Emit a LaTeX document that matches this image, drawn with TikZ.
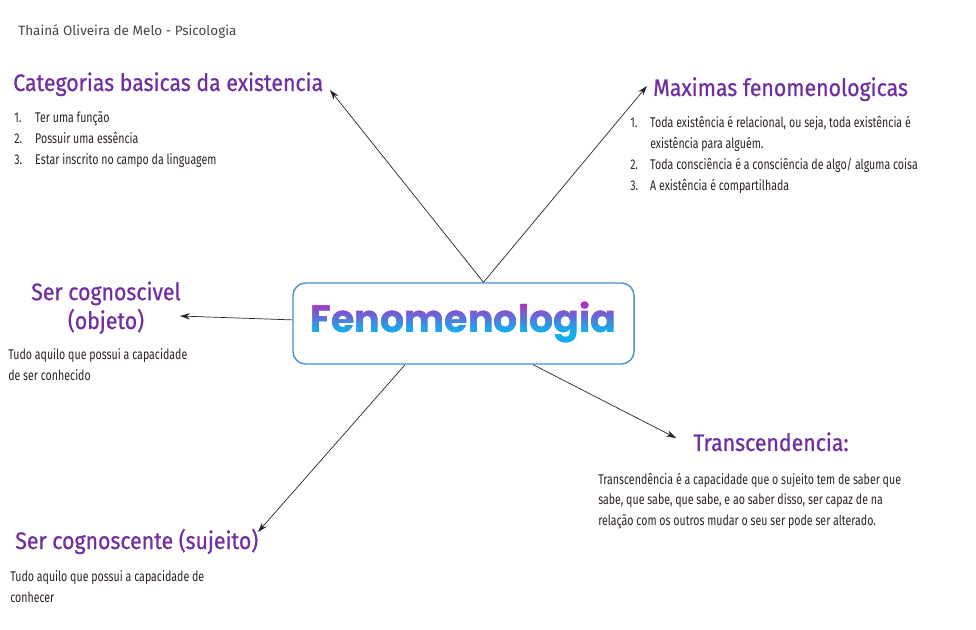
\documentclass[tikz,border=0pt]{standalone}
\usepackage{fontspec}
\setmainfont{Fira Sans}
\newfontfamily\handfont[FakeStretch=0.755]{Fira Sans}
\newfontfamily\titlefont[FakeStretch=0.89,FakeBold=0.8]{Fira Sans}
\newfontfamily\fenfont{Poppins}
\usetikzlibrary{arrows.meta,positioning}

\definecolor{titlepurple}{RGB}{112,48,160}
\definecolor{bodytext}{RGB}{45,35,35}
\definecolor{authorgray}{RGB}{70,70,70}
\definecolor{hubblue}{RGB}{66,146,212}
\definecolor{fenmag}{RGB}{196,28,186}
\definecolor{fencyan}{RGB}{22,172,236}

\tikzset{
  heading/.style={anchor=base west, inner sep=0pt, text=titlepurple, font=\titlefont\fontsize{17}{20.5}\selectfont},
  body/.style={anchor=base west, inner sep=0pt, align=left, text=bodytext, font=\handfont\fontsize{10}{14.9}\selectfont},
  hub/.style={draw=hubblue, line width=1pt, rounded corners=9pt, fill=white, minimum width=8.525cm, minimum height=2.025cm},
  fenword/.style={anchor=base, inner sep=0pt, font=\fenfont\bfseries\fontsize{27}{32}\selectfont},
  link/.style={-{Stealth[length=7pt,width=4.5pt]}, draw=black!85, line width=0.5pt}
}

\begin{document}
\begin{tikzpicture}[x=0.025cm, y=-0.025cm]
    \useasboundingbox (0,0) rectangle (976,630);

    % author line
    \node[anchor=base west, inner sep=0pt, text=authorgray, font=\fontsize{9.6}{11}\selectfont] (author) at (18,36) {Thainá Oliveira de Melo - Psicologia};

    % central box, word shaded band by band
    \node[hub] (fen) at (463.5,323.5) {};
    \foreach \i in {0,...,24} {
        \pgfmathtruncatemacro\pct{max(0,min(100,100-(\i-1)*100/15))}
        \begin{scope}
            \clip (0,{298+2*\i}) rectangle (976,{300.4+2*\i});
            \node[fenword, text=fenmag!\pct!fencyan] (fenTxt\i) at (463.5,333) {Fenomenologia};
        \end{scope}
    }

    % categorias basicas
    \node[heading] (cat) at (13,91) {Categorias basicas da existencia};
    \node[body] (catList) at (14,123) {\begin{tabular}[t]{@{}p{14.9pt}@{}l@{}}
        1. & Ter uma função\\
        2. & Possuir uma essência\\
        3. & Estar inscrito no campo da linguagem
    \end{tabular}};

    % maximas
    \node[heading] (max) at (653,96) {Maximas fenomenologicas};
    \node[body] (maxList) at (630,128) {\begin{tabular}[t]{@{}p{14.2pt}@{}l@{}}
        1. & Toda existência é relacional, ou seja, toda existência é\\
           & existência para alguém.\\
        2. & Toda consciência é a consciência de algo/ alguma coisa\\
        3. & A existência é compartilhada
    \end{tabular}};

    % ser cognoscivel
    \node[heading, anchor=base, align=center] (cog) at (106,329) {Ser cognoscivel\\(objeto)};
    \node[body] (cogTxt) at (8,380) {Tudo aquilo que possui a capacidade\\de ser conhecido};

    % transcendencia
    \node[heading] (tra) at (693,451) {Transcendencia:};
    \node[body, font=\handfont\fontsize{10}{14.5}\selectfont] (traTxt) at (598,525) {Transcendência é a capacidade que o sujeito tem de saber que\\sabe, que sabe, que sabe, e ao saber disso, ser capaz de na\\relação com os outros mudar o seu ser pode ser alterado.};

    % ser cognoscente
    \node[heading] (suj) at (15,549) {Ser cognoscente (sujeito)};
    \node[body] (sujTxt) at (10,602) {Tudo aquilo que possui a capacidade de\\conhecer};

    % arrow ends
    \coordinate (catTip) at (330,90);
    \coordinate (maxTip) at (647,86);
    \coordinate (cogTip) at (180,316);
    \coordinate (sujTip) at (258,532);
    \coordinate (traTip) at (676,438);

    \draw[link] ([xshift=0.5cm]fen.north) -- (catTip);
    \draw[link] ([xshift=0.5cm]fen.north) -- (maxTip);
    \draw[link] ([yshift=0.09cm]fen.west) -- (cogTip);
    \draw[link] ([xshift=-1.46cm]fen.south) -- (sujTip);
    \draw[link] ([xshift=1.74cm]fen.south) -- (traTip);
\end{tikzpicture}
\end{document}
